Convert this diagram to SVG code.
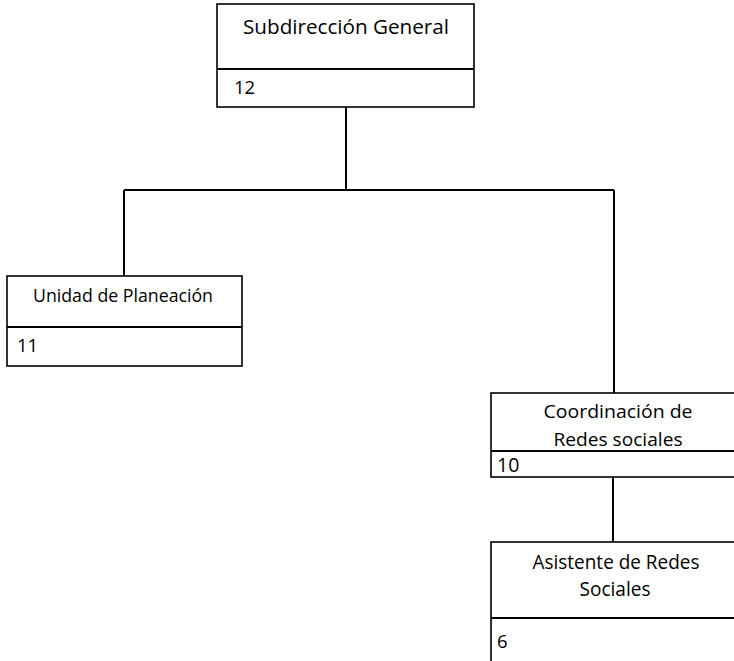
<svg xmlns="http://www.w3.org/2000/svg" width="734" height="661" viewBox="0 0 734 661">
<style>
.box{fill:#fff;stroke:#000;stroke-width:1.6}
.div{stroke:#000;stroke-width:2}
.conn{fill:none;stroke:#000;stroke-width:2}
text{font-family:"Open Sans","Liberation Sans",sans-serif;fill:#000}
.t{text-anchor:middle}
.n{font-size:18.5px}
</style>
<rect width="734" height="661" fill="#fff"/>
<g id="connectors">
<path class="conn" d="M346 107 V190 M124 190 H614 M124 190 V276 M614 190 V393 M613 477 V542"/>
</g>
<g id="subdireccion">
<rect class="box" x="217" y="4" width="257" height="103"/>
<line class="div" x1="217" y1="69" x2="474" y2="69"/>
<text class="t" x="346" y="34" style="font-size:19.5px" textLength="206" lengthAdjust="spacingAndGlyphs">Subdirección General</text>
<text class="n" x="234" y="94">12</text>
</g>
<g id="unidad">
<rect class="box" x="7" y="276" width="235" height="90"/>
<line class="div" x1="7" y1="327" x2="242" y2="327"/>
<text class="t" x="123" y="302" style="font-size:17.5px" textLength="180" lengthAdjust="spacingAndGlyphs">Unidad de Planeación</text>
<text class="n" x="17" y="352">11</text>
</g>
<g id="coordinacion">
<rect class="box" x="491" y="393" width="250" height="84"/>
<line class="div" x1="491" y1="451" x2="741" y2="451"/>
<text class="t" x="618" y="418" style="font-size:19px" textLength="149" lengthAdjust="spacingAndGlyphs">Coordinación de</text>
<text class="t" x="618" y="446" style="font-size:19px" textLength="129" lengthAdjust="spacingAndGlyphs">Redes sociales</text>
<text class="n" x="497" y="472" style="font-size:19.5px">10</text>
</g>
<g id="asistente">
<rect class="box" x="491" y="542" width="250" height="130"/>
<line class="div" x1="491" y1="618" x2="741" y2="618"/>
<text class="t" x="616" y="569" style="font-size:19.5px" textLength="167" lengthAdjust="spacingAndGlyphs">Asistente de Redes</text>
<text class="t" x="615" y="596" style="font-size:19.5px" textLength="71" lengthAdjust="spacingAndGlyphs">Sociales</text>
<text class="n" x="497" y="648">6</text>
</g>
</svg>
